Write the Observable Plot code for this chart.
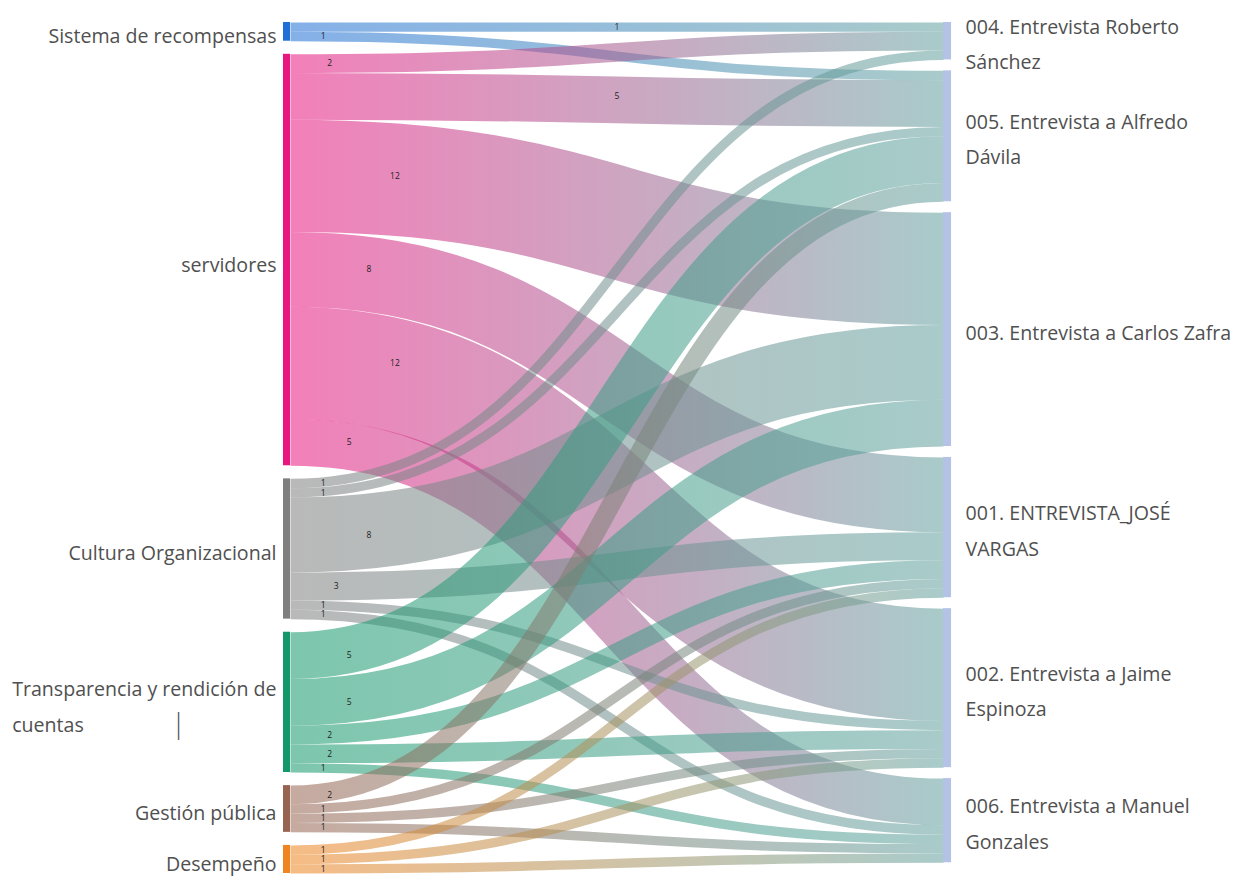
<!DOCTYPE html>
<html>
<head>
<meta charset="utf-8">
<script src="https://cdn.jsdelivr.net/npm/d3@7"></script>
<script src="https://cdn.jsdelivr.net/npm/@observablehq/plot@0.6"></script>
<style>
  html, body { margin: 0; padding: 0; background: #fff; }
</style>
</head>
<body>
<div id="chart"></div>
<script>
// ---- data ----
const sourceNodes = [
  "Sistema de recompensas",
  "servidores",
  "Cultura Organizacional",
  "Transparencia y rendición de\ncuentas",
  "Gestión pública",
  "Desempeño"
];
const targetNodes = [
  "004. Entrevista Roberto\nSánchez",
  "005. Entrevista a Alfredo\nDávila",
  "003. Entrevista a Carlos Zafra",
  "001. ENTREVISTA_JOSÉ\nVARGAS",
  "002. Entrevista a Jaime\nEspinoza",
  "006. Entrevista a Manuel\nGonzales"
];
const linkSource = [0,0, 1,1,1,1,1,1, 2,2,2,2,2,2, 3,3,3,3,3, 4,4,4,4, 5,5,5];
const linkTarget = [0,1, 0,1,2,3,4,5, 0,1,2,3,4,5, 1,2,3,4,5, 1,3,4,5, 3,4,5];
const linkValue  = [1,1, 2,5,12,8,12,5, 1,1,8,3,1,1, 5,5,2,2,1, 2,1,1,1, 1,1,1];

// ---- styles ----
const sourceColors = ["#1f6fd6", "#e8167f", "#7f7f7f", "#12986a", "#976451", "#ef8420"];
const linkEndColor = "#62a09e";
const targetNodeColor = "#b3c2e5";
const labelColor = "#505050";
const padLeft = 1.4, padRight = 1.17;   // node padding, in value units
const xRange = [290, 943], yRange = [22, 873];
const nodeWidthPx = 7;
const labelSize = 19.6;

// ---- sankey layout (value units) ----
const links = linkValue.map((v, j) => ({s: linkSource[j], t: linkTarget[j], v}));
const totals = (n, key) => d3.range(n).map(i => d3.sum(links.filter(l => l[key] === i), l => l.v));
function stack(tot, pad, names) {
  let y = 0;
  return tot.map((t, i) => { const n = {name: names[i], i, y0: y, y1: y + t}; y += t + pad; return n; });
}
const srcPos = stack(totals(sourceNodes.length, "s"), padLeft, sourceNodes);
const tgtPos = stack(totals(targetNodes.length, "t"), padRight, targetNodes);
const sOff = srcPos.map(p => p.y0), tOff = tgtPos.map(p => p.y0);
links.slice().sort((a, b) => a.s - b.s || a.t - b.t).forEach(l => { l.sy0 = sOff[l.s]; sOff[l.s] += l.v; });
links.slice().sort((a, b) => a.t - b.t || a.s - b.s).forEach(l => { l.ty0 = tOff[l.t]; tOff[l.t] += l.v; });

const yDomain = [0, d3.max([...srcPos, ...tgtPos], d => d.y1)];
const k = (yRange[1] - yRange[0]) / (yDomain[1] - yDomain[0]);
const nodeW = nodeWidthPx / (xRange[1] - xRange[0]);

// gradient definitions
const defsMark = (index, scales) => {
  const ns = "http://www.w3.org/2000/svg";
  const defs = document.createElementNS(ns, "defs");
  const xs = scales && scales.x ? [scales.x(0), scales.x(1)] : xRange;
  sourceColors.forEach((c, i) => {
    const g = document.createElementNS(ns, "linearGradient");
    g.setAttribute("id", "grad" + i);
    g.setAttribute("gradientUnits", "userSpaceOnUse");
    g.setAttribute("x1", xs[0]); g.setAttribute("x2", xs[1]);
    g.setAttribute("y1", 0); g.setAttribute("y2", 0);
    [[0, c], [1, linkEndColor]].forEach(([o, col]) => {
      const s = document.createElementNS(ns, "stop");
      s.setAttribute("offset", o); s.setAttribute("stop-color", col);
      g.appendChild(s);
    });
    defs.appendChild(g);
  });
  return defs;
};

const linkMarks = sourceNodes.map((_, i) => Plot.link(links.filter(l => l.s === i), {
  x1: () => 0, x2: () => 1,
  y1: d => d.sy0 + d.v / 2,
  y2: d => d.ty0 + d.v / 2,
  strokeWidth: d => Math.max(1, d.v * k),
  stroke: `url(#grad${i})`,
  strokeOpacity: 0.55,
  curve: "bump-x"
}));

const plot = Plot.plot({
  width: 1234,
  height: 878,
  margin: 0,
  style: {background: "#fff", fontFamily: "'Open Sans', sans-serif"},
  x: {domain: [0, 1], range: xRange, axis: null},
  y: {domain: yDomain, range: yRange, axis: null},
  color: {type: "identity"},
  marks: [
    defsMark,
    ...linkMarks,
    Plot.rect(srcPos, {x1: () => -nodeW, x2: () => 0, y1: "y0", y2: "y1", fill: d => sourceColors[d.i]}),
    Plot.rect(tgtPos, {x1: () => 1, x2: () => 1 + nodeW * 1.15, y1: "y0", y2: "y1", fill: () => targetNodeColor}),
    Plot.text(links, {
      x: d => Math.abs((d.sy0 - d.ty0)) < 1 ? 0.5 : 0.04 + 0.01 * d.v,
      y: d => d.sy0 + d.v / 2,
      text: d => String(d.v),
      fontSize: 8.5, fill: "#222"
    }),
    Plot.text(srcPos, {
      x: () => -nodeW, y: d => (d.y0 + d.y1) / 2, text: "name",
      textAnchor: "end", dx: -7, dy: 0, fontSize: labelSize, fill: labelColor, lineHeight: 1.83
    }),
    Plot.text(tgtPos, {
      x: () => 1 + nodeW, y: d => (d.y0 + d.y1) / 2, text: "name",
      textAnchor: "start", dx: 15, dy: -1, fontSize: labelSize, fill: labelColor, lineHeight: 1.8
    }),
    Plot.text([srcPos[3]], {
      x: () => -nodeW, y: d => (d.y0 + d.y1) / 2, text: () => "|",
      dx: -105, dy: 22, fontSize: 28, fontWeight: 300, fill: labelColor
    })
  ]
});
document.getElementById("chart").appendChild(plot);

// left-align wrapped lines of the multi-line left label (box anchored at right)
for (const t of plot.querySelectorAll("text")) {
  if (t.textContent.startsWith("Transparencia")) {
    const w = t.getBBox().width;
    t.setAttribute("text-anchor", "start");
    for (const ts of t.querySelectorAll("tspan")) ts.setAttribute("x", -w);
  }
}
</script>
</body>
</html>
